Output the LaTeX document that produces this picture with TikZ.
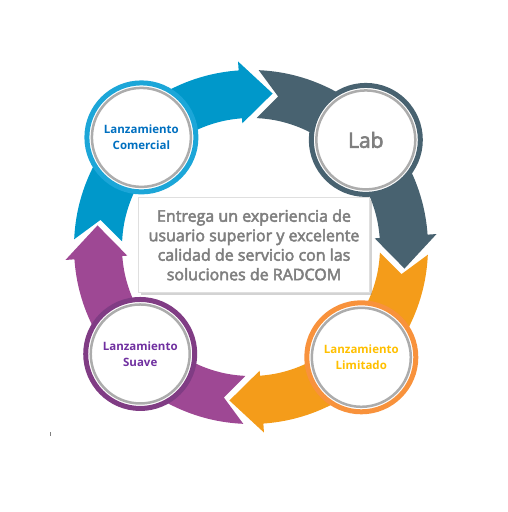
\documentclass[tikz,border=0pt]{standalone}
\usepackage{fontspec}
\setmainfont{Open Sans}
\newfontfamily\semifont[FakeBold=3]{Open Sans}
\usetikzlibrary{calc,shadows}
\definecolor{cblue}{RGB}{0,152,202}
\definecolor{cblring}{RGB}{28,166,216}
\definecolor{cslate}{RGB}{72,98,112}
\definecolor{corange}{RGB}{244,156,26}
\definecolor{corring}{RGB}{248,146,60}
\definecolor{cpurple}{RGB}{158,72,148}
\definecolor{cpuring}{RGB}{128,60,132}
\definecolor{tblue}{RGB}{0,112,192}
\definecolor{tgold}{RGB}{255,192,0}
\definecolor{tpurple}{RGB}{112,48,160}
\definecolor{tgray}{RGB}{127,127,127}
\tikzset{
  stage/.style={circle,fill=white,draw=#1,line width=5pt,minimum size=109pt,inner sep=0pt,align=center,
    font=\bfseries\fontsize{11.5}{15.5}\selectfont},
  grayring/.style={draw=gray!65,line width=2.5pt},
  msgbox/.style={draw=gray!25,fill=white,minimum width=231pt,minimum height=95pt,align=center,text=tgray,
    font=\semifont\fontsize{16}{19.5}\selectfont,drop shadow={shadow xshift=2pt,shadow yshift=-2.5pt,opacity=.35}}
}
\begin{document}
\begin{tikzpicture}[x=1pt,y=1pt]
\useasboundingbox (0,0) rectangle (507,512);
\begin{scope}[shift={(251,265)}]
% arrow bands, clockwise
\foreach \t/\c in {82/cblue,-8/cslate,-98/corange,-188/cpurple}
  \fill[\c] (\t+95.5:177) arc[start angle=\t+95.5,end angle=\t+12,radius=177] -- (\t+12:186) -- (\t:155)
    -- (\t+12:124) -- (\t+12:129) arc[start angle=\t+12,end angle=\t+95.5,radius=129] -- (\t+87.8:153) -- cycle;
\node[msgbox] (msg) at (3,2) {Entrega un experiencia de\\usuario superior y excelente\\calidad de servicio con las\\soluciones de RADCOM};
\node[stage=cblring,text=tblue] (com) at (135:155) {Lanzamiento\\Comercial};
\node[stage=cslate,text=tgray,font=\semifont\fontsize{21}{24}\selectfont] (lab) at (43:157) {Lab};
\node[stage=corring,text=tgold] (lim) at (-45:156) {Lanzamiento\\Limitado};
\node[stage=cpuring,text=tpurple] (sua) at (-136:154) {Lanzamiento\\Suave};
\foreach \n in {com,lab,lim,sua} \draw[grayring] (\n.center) circle[radius=49.5];
\end{scope}
\draw[tgray,line width=1pt] (50,76) -- (50,80);
\end{tikzpicture}
\end{document}
